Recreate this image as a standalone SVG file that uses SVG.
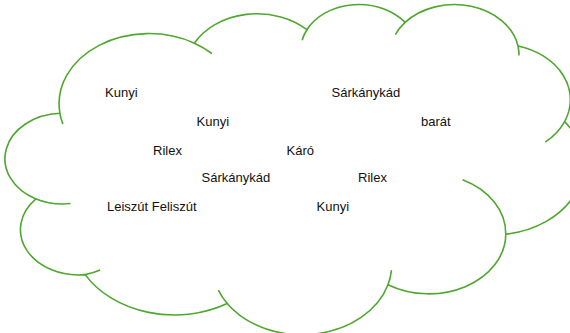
<svg xmlns="http://www.w3.org/2000/svg" width="570" height="333" viewBox="0 0 570 333">
<style>
.outline{fill:#ffffff;stroke:#4ea72e;stroke-width:1.6;stroke-linejoin:round}
.stub{fill:none;stroke:#4ea72e;stroke-width:1.6;stroke-linecap:butt}
.lbl{font-family:"Liberation Sans",Arial,sans-serif;font-size:13px;fill:#111111}
</style>
<rect width="570" height="333" fill="#ffffff"/>
<g id="cloud">
<path class="outline" d="M59.9,113.3 A89.9,70.2 0 0 1 194.4,43.2 A71.0,55.5 0 0 1 306.9,29.7 A58.1,45.4 0 0 1 405.1,22.4 A64.6,50.4 0 0 1 518.0,46.0 A71.0,55.6 0 0 1 564.6,121.6 A90.2,70.4 0 0 1 505.8,234.2 A77.0,60.1 0 0 1 388.0,284.7 A89.9,70.4 0 0 1 227.2,303.5 A102.8,80.5 0 0 1 85.2,274.6 A58.0,45.2 0 0 1 36.0,198.9 A57.8,45.4 0 0 1 59.9,113.3 Z"/>
<path class="stub" d="M70.5,203.5 A57.8,45.4 0 0 1 36.0,198.9"/>
<path class="stub" d="M100.2,270.1 A58,45.2 0 0 1 85.2,274.6"/>
<path class="stub" d="M227.2,303.5 A89.9,70.4 0 0 1 218.3,290.2"/>
<path class="stub" d="M391.5,270.1 A89.9,70.4 0 0 1 388.0,284.7"/>
<path class="stub" d="M462.6,179.7 A77.0,60.1 0 0 1 505.8,234.2"/>
<path class="stub" d="M564.6,121.6 A71.0,55.6 0 0 1 545.3,142.1"/>
<path class="stub" d="M518.0,46.0 A64.6,50.4 0 0 1 519.0,55.6"/>
<path class="stub" d="M395.3,34.7 A64.6,50.4 0 0 1 405.1,22.4"/>
<path class="stub" d="M302.1,40.3 A58.1,45.4 0 0 1 306.9,29.7"/>
<path class="stub" d="M194.4,43.2 A89.9,70.2 0 0 1 211.8,53.5"/>
<path class="stub" d="M62.9,124.1 A89.9,70.2 0 0 1 59.9,113.3"/>
</g>
<g id="w-kunyi-1"><text class="lbl" x="105" y="97">Kunyi</text></g>
<g id="w-sarkanykad-1"><text class="lbl" x="331.5" y="97">Sárkánykád</text></g>
<g id="w-kunyi-2"><text class="lbl" x="196.5" y="125.5">Kunyi</text></g>
<g id="w-barat"><text class="lbl" x="421" y="125.5">barát</text></g>
<g id="w-rilex-1"><text class="lbl" x="153" y="154.5">Rilex</text></g>
<g id="w-karo"><text class="lbl" x="286.5" y="154.5">Káró</text></g>
<g id="w-sarkanykad-2"><text class="lbl" x="201.5" y="182">Sárkánykád</text></g>
<g id="w-rilex-2"><text class="lbl" x="358" y="182">Rilex</text></g>
<g id="w-leiszut"><text class="lbl" x="107" y="211">Leiszút Feliszút</text></g>
<g id="w-kunyi-3"><text class="lbl" x="316.5" y="211">Kunyi</text></g>
</svg>
